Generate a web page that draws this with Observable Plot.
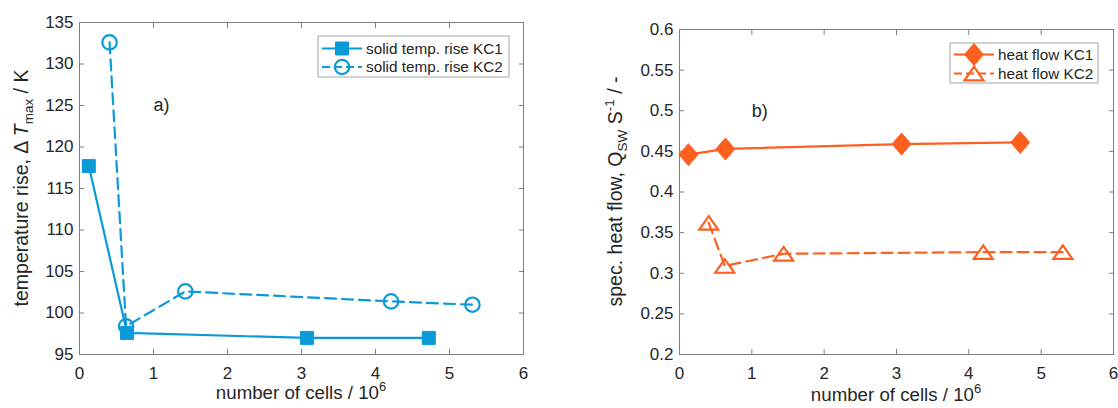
<!DOCTYPE html>
<html><head><meta charset="utf-8">
<script src="https://cdn.jsdelivr.net/npm/d3@7"></script>
<script src="https://cdn.jsdelivr.net/npm/@observablehq/plot@0.6"></script>
<style>
body{margin:0;background:#fff;}
#wrap{display:flex;width:1118px;height:408px;overflow:hidden;}
</style></head><body><div id="wrap"></div>
<script>
// ---- data ----
const xTicks = [0, 1, 2, 3, 4, 5, 6];
const yTicksA = [95, 100, 105, 110, 115, 120, 125, 130, 135];
const yTicksB = [0.2, 0.25, 0.3, 0.35, 0.4, 0.45, 0.5, 0.55, 0.6];
const cellsTempKC1 = [0.126, 0.643, 3.075, 4.72];
const tempKC1 = [117.7, 97.6, 97.0, 97.0];
const cellsTempKC2 = [0.406, 0.629, 1.43, 4.21, 5.31];
const tempKC2 = [132.6, 98.4, 102.6, 101.4, 101.0];
const cellsHeatKC1 = [0.123, 0.635, 3.07, 4.71];
const heatKC1 = [0.446, 0.453, 0.459, 0.461];
const cellsHeatKC2 = [0.404, 0.626, 1.44, 4.20, 5.30];
const heatKC2 = [0.362, 0.309, 0.324, 0.326, 0.326];
const legendA = ["solid temp. rise KC1", "solid temp. rise KC2"];
const legendB = ["heat flow KC1", "heat flow KC2"];
const tagA = {text: "a)", x: 1, y: 125};
const tagB = {text: "b)", x: 1, y: 0.5};

// ---- style ----
const BLUE = "#0a9ad8", ORANGE = "#fd5f1f", AX = "#262626", FRAME = "#7f7f7f";
const FONT = "Liberation Sans, Arial, Helvetica, sans-serif";

const symSquare = {draw(c) {c.moveTo(-6.5,-6.5); c.lineTo(6.5,-6.5); c.lineTo(6.5,6.5); c.lineTo(-6.5,6.5); c.closePath();}};
const symCircle = {draw(c) {c.moveTo(7.2,0); c.arc(0,0,7.2,0,2*Math.PI); c.closePath();}};
const symDiamond = {draw(c) {c.moveTo(0,-11); c.lineTo(9.5,0); c.lineTo(0,11); c.lineTo(-9.5,0); c.closePath();}};
const symTriangle = {draw(c) {c.moveTo(0,-6.8); c.lineTo(9.5,6.8); c.lineTo(-9.5,6.8); c.closePath();}};

function toRows(xs, ys) { return xs.map((x, i) => ({x, y: ys[i]})); }

function panel(o) {
  const W = 559, H = 408;
  const s1 = toRows(o.x1, o.y1), s2 = toRows(o.x2, o.y2);
  const fmt = o.fmt;
  const svg = Plot.plot({
    width: W, height: H,
    marginLeft: o.ml, marginRight: o.mr, marginTop: o.mt, marginBottom: o.mb,
    style: {fontFamily: FONT, fontSize: "17px", color: AX, background: "white", overflow: "visible"},
    x: {domain: [0, 6]},
    y: {domain: o.yDomain},
    marks: [
      Plot.frame({stroke: FRAME}),
      Plot.axisX({ticks: xTicks, tickSize: -5, tickPadding: 17, label: null, stroke: FRAME, tickFormat: d => String(d)}),
      Plot.axisX({anchor: "top", ticks: xTicks, tickSize: -5, tickFormat: () => "", label: null, stroke: FRAME}),
      Plot.axisY({ticks: o.yTicks, tickSize: -5, tickPadding: 11, label: null, stroke: FRAME, tickFormat: fmt}),
      Plot.axisY({anchor: "right", ticks: o.yTicks, tickSize: -5, tickFormat: () => "", label: null, stroke: FRAME}),
      Plot.line(s1, {x: "x", y: "y", stroke: o.color, strokeWidth: 2.2}),
      Plot.line(s2, {x: "x", y: "y", stroke: o.color, strokeWidth: 2.2, strokeDasharray: "11,6"}),
      Plot.dot(s1, {x: "x", y: "y", symbol: o.sym1, fill: o.fill1 ? o.color : "none", stroke: o.color, strokeWidth: o.fill1 ? 1 : 2.2}),
      Plot.dot(s2, {x: "x", y: "y", symbol: o.sym2, fill: "none", stroke: o.color, strokeWidth: 2.2}),
      Plot.text([o.tag], {x: "x", y: "y", text: "text", textAnchor: "start", fontSize: 18, fill: AX})
    ]
  });
  const g = d3.select(svg);
  const left = o.ml, right = W - o.mr, top = o.mt, bottom = H - o.mb;

  // x label
  const xl = g.append("text").attr("x", (left + right) / 2).attr("y", o.xlabelY)
    .attr("text-anchor", "middle").attr("fill", AX).style("font-size", "18.7px").style("font-family", FONT);
  xl.append("tspan").text("number of cells / 10");
  xl.append("tspan").attr("dy", -8).style("font-size", "13px").text("6");

  // y label
  const yl = g.append("text")
    .attr("transform", `translate(${left - o.ylabelOff},${(top + bottom) / 2}) rotate(-90)`)
    .attr("text-anchor", "middle").attr("fill", AX).style("font-size", "19.5px").style("font-family", FONT);
  o.ylabel(yl);

  // legend
  const L = o.legend;
  const lx = right - L.dr - L.w, ly = top + L.dt;
  g.append("rect").attr("x", lx).attr("y", ly).attr("width", L.w).attr("height", L.h)
    .attr("fill", "white").attr("stroke", "#a6a6a6").attr("stroke-width", 1);
  const items = [
    {label: L.labels[0], sym: o.sym1, dash: null, fill: o.fill1},
    {label: L.labels[1], sym: o.sym2, dash: "11,6", fill: false}
  ];
  items.forEach((it, i) => {
    const cy = ly + L.rows[i];
    g.append("line").attr("x1", lx + 4).attr("x2", lx + 44).attr("y1", cy).attr("y2", cy)
      .attr("stroke", o.color).attr("stroke-width", 2.2).attr("stroke-dasharray", it.dash ? "8,4" : null);
    const p = d3.path(); it.sym.draw(p);
    g.append("path").attr("d", p.toString()).attr("transform", `translate(${lx + 24},${cy})`)
      .attr("fill", it.fill ? o.color : "none").attr("stroke", o.color).attr("stroke-width", it.fill ? 1 : 2.2);
    g.append("text").attr("x", lx + 48).attr("y", cy).attr("dy", "0.35em").attr("fill", AX)
      .attr("text-anchor", "start")
      .style("font-size", "15.3px").style("font-family", FONT).text(it.label);
  });
  return svg;
}

const wrap = document.getElementById("wrap");
wrap.appendChild(panel({
  ml: 79, mr: 36, mt: 22, mb: 54,
  yDomain: [95, 135], yTicks: yTicksA, fmt: d => String(d),
  x1: cellsTempKC1, y1: tempKC1, x2: cellsTempKC2, y2: tempKC2,
  color: BLUE, sym1: symSquare, fill1: true, sym2: symCircle,
  tag: tagA, xlabelY: 399, ylabelOff: 51,
  ylabel: t => {
    t.append("tspan").text("temperature rise, \u0394 ");
    t.append("tspan").style("font-style", "italic").text("T");
    t.append("tspan").attr("dy", 5).style("font-size", "13.5px").text("max");
    t.append("tspan").attr("dy", -5).text(" / K");
  },
  legend: {labels: legendA, w: 191, h: 41, dr: 14, dt: 14, rows: [12.5, 31]}
}));
wrap.appendChild(panel({
  ml: 120, mr: 5, mt: 29, mb: 54,
  yDomain: [0.2, 0.6], yTicks: yTicksB, fmt: d => String(+d.toFixed(2)),
  x1: cellsHeatKC1, y1: heatKC1, x2: cellsHeatKC2, y2: heatKC2,
  color: ORANGE, sym1: symDiamond, fill1: true, sym2: symTriangle,
  tag: tagB, xlabelY: 401, ylabelOff: 57,
  ylabel: t => {
    t.append("tspan").text("spec. heat flow, Q");
    t.append("tspan").attr("dy", 5).style("font-size", "13.5px").text("SW");
    t.append("tspan").attr("dy", -5).text(" S");
    t.append("tspan").attr("dy", -8).style("font-size", "13.5px").text("-1");
    t.append("tspan").attr("dy", 8).text(" / -");
  },
  legend: {labels: legendB, w: 148, h: 40, dr: 15, dt: 14, rows: [11.5, 30.5]}
}));
</script></body></html>
